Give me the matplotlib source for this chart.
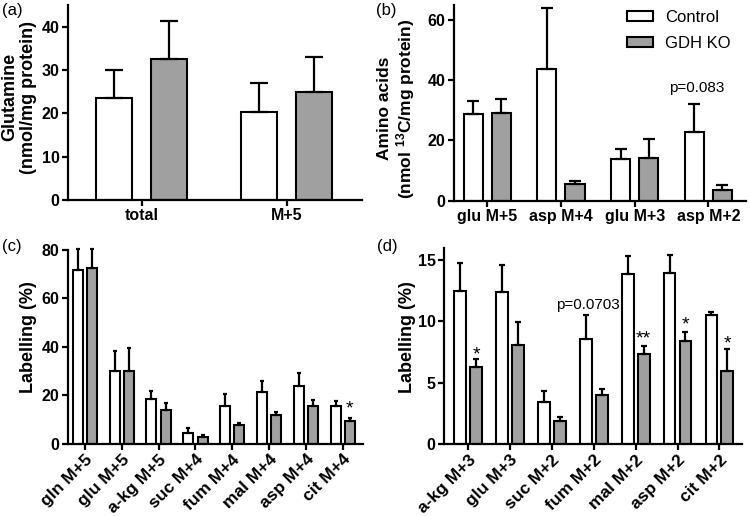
import matplotlib
matplotlib.use("Agg")
import matplotlib.pyplot as plt
import numpy as np
from matplotlib.patches import Patch

plt.rcParams['font.family'] = ['Liberation Sans', 'DejaVu Sans']
plt.rcParams['mathtext.fontset'] = 'custom'
plt.rcParams['mathtext.bf'] = 'Liberation Sans:bold'
plt.rcParams['mathtext.rm'] = 'Liberation Sans:bold'
plt.rcParams['mathtext.default'] = 'bf'

# ---------------- data ----------------
a_cats = ['total', 'M+5']
a_ctrl = [23.5, 20.3]
a_ctrl_err = [6.5, 6.7]
a_ko = [32.6, 25.0]
a_ko_err = [8.7, 8.1]

b_cats = ['glu M+5', 'asp M+4', 'glu M+3', 'asp M+2']
b_ctrl = [28.8, 43.6, 13.7, 22.8]
b_ctrl_err = [4.3, 20.3, 3.4, 9.2]
b_ko = [29.0, 5.5, 14.1, 3.6]
b_ko_err = [4.7, 1.1, 6.4, 1.5]

c_cats = ['gln M+5', 'glu M+5', 'a-kg M+5', 'suc M+4', 'fum M+4', 'mal M+4', 'asp M+4', 'cit M+4']
c_ctrl = [71.8, 30.0, 18.2, 4.5, 15.3, 21.2, 23.6, 15.4]
c_ctrl_err = [8.6, 8.3, 3.7, 2.1, 5.3, 4.7, 5.7, 2.0]
c_ko = [72.5, 30.0, 13.9, 2.8, 7.5, 11.9, 15.6, 9.4]
c_ko_err = [7.9, 9.5, 2.9, 0.8, 1.1, 1.2, 2.3, 1.0]

d_cats = ['a-kg M+3', 'glu M+3', 'suc M+2', 'fum M+2', 'mal M+2', 'asp M+2', 'cit M+2']
d_ctrl = [12.5, 12.4, 3.45, 8.53, 13.83, 13.9, 10.49]
d_ctrl_err = [2.28, 2.2, 0.9, 1.97, 1.52, 1.5, 0.3]
d_ko = [6.25, 8.07, 1.88, 4.02, 7.31, 8.4, 5.95]
d_ko_err = [0.65, 1.9, 0.35, 0.48, 0.69, 0.76, 1.77]
d_sig = ['*', '', '', '', '**', '*', '*']
d_sig_y = [7.82, 0, 0, 0, 9.13, 10.27, 8.72]

GRAY = '#a0a0a0'
W, H = 750, 516

fig = plt.figure(figsize=(7.5, 5.16), dpi=100)

def add_axes(left, top, right, bottom):
    return fig.add_axes([left / W, 1 - bottom / H, (right - left) / W, (bottom - top) / H])

def draw(ax, cats, ctrl, ctrl_err, ko, ko_err, off, width, capsize, ylim, xlim, yticks,
         rot=False, xfs=11.5):
    x = np.arange(len(cats))
    z = np.zeros(len(cats))
    ek = dict(elinewidth=1.6, capthick=1.6, ecolor='black', clip_on=False)
    ax.bar(x - off, ctrl, width, color='white', edgecolor='black', linewidth=1.5,
           yerr=[z, ctrl_err], capsize=capsize, error_kw=ek, label='Control', zorder=2)
    ax.bar(x + off, ko, width, color=GRAY, edgecolor='black', linewidth=1.5,
           yerr=[z, ko_err], capsize=capsize, error_kw=ek, label='GDH KO', zorder=2)
    ax.set_xlim(*xlim)
    ax.set_ylim(*ylim)
    ax.set_yticks(yticks)
    ax.set_xticks(x)
    if rot:
        ax.set_xticklabels(cats, rotation=45, ha='right', rotation_mode='anchor',
                           fontsize=xfs, fontweight='bold')
    else:
        ax.set_xticklabels(cats, fontsize=xfs, fontweight='bold')
    for lab in ax.get_yticklabels():
        lab.set_fontweight('bold')
        lab.set_fontsize(11.5)
    for s in ['top', 'right']:
        ax.spines[s].set_visible(False)
    for s in ['left', 'bottom']:
        ax.spines[s].set_linewidth(1.6)
    ax.tick_params(axis='both', direction='out', width=1.6, length=4, pad=2)
    return x

def ylab(ax, text, xfrac, yfrac, fs=13):
    ax.set_ylabel(text, fontsize=fs, fontweight='bold', linespacing=1.15)
    ax.yaxis.set_label_coords(xfrac, yfrac)

def star(ax, x, y, s):
    # y is the visual centre of the asterisk glyph
    ax.annotate(s, (x, y), xytext=(0, -8), textcoords='offset points',
                ha='center', va='baseline', fontsize=14)

# (a)
axa = add_axes(68, 5, 362, 200)
draw(axa, a_cats, a_ctrl, a_ctrl_err, a_ko, a_ko_err, 0.19, 0.25, 6.5,
     (0, 45), (-0.51, 1.52), [0, 10, 20, 30, 40])
ylab(axa, 'Glutamine\n(nmol/mg protein)', -0.106, 0.526)

# (b)
axb = add_axes(454, 5, 746, 200.7)
draw(axb, b_cats, b_ctrl, b_ctrl_err, b_ko, b_ko_err, 0.19, 0.26, 4.3,
     (0, 65), (-0.45, 3.51), [0, 20, 40, 60])
ylab(axb, 'Amino acids\n(nmol $^{13}$C/mg protein)', -0.125, 0.47, fs=12.5)
axb.text(2.84, 37.4, 'p=0.083', ha='center', va='center', fontsize=11)
handles = [Patch(facecolor='white', edgecolor='black', linewidth=1.5),
           Patch(facecolor=GRAY, edgecolor='black', linewidth=1.5)]
axb.legend(handles, ['Control', 'GDH KO'], loc='upper left',
           bbox_to_anchor=((620 - 454) / (746 - 454), 1.01), frameon=False,
           fontsize=12, handlelength=1.6, handleheight=0.55, handletextpad=0.7,
           labelspacing=0.65, borderaxespad=0.0)

# (c)
axc = add_axes(68, 250, 363, 443.5)
draw(axc, c_cats, c_ctrl, c_ctrl_err, c_ko, c_ko_err, 0.195, 0.27, 1.5,
     (0, 80), (-0.46, 7.55), [0, 20, 40, 60, 80], rot=True, xfs=12.5)
ylab(axc, 'Labelling (%)', -0.105, 0.548)
star(axc, 7.195, 17.2, '*')

# (d)
axd = add_axes(444, 247.7, 742, 444)
xd = draw(axd, d_cats, d_ctrl, d_ctrl_err, d_ko, d_ko_err, 0.19, 0.28, 2.2,
          (0, 16), (-0.58, 6.54), [0, 5, 10, 15], rot=True, xfs=12.5)
ylab(axd, 'Labelling (%)', -0.095, 0.547)
for i, s in enumerate(d_sig):
    if s:
        star(axd, xd[i] + 0.19, d_sig_y[i], s)
axd.text(2.86, 11.3, 'p=0.0703', ha='center', va='center', fontsize=11)

# panel labels
for lbl, px, py in [('(a)', 2, 10), ('(b)', 376, 10), ('(c)', 2, 247), ('(d)', 377, 247)]:
    fig.text(px / W, 1 - py / H, lbl, ha='left', va='center', fontsize=12)

fig.savefig('out.png', dpi=100)
